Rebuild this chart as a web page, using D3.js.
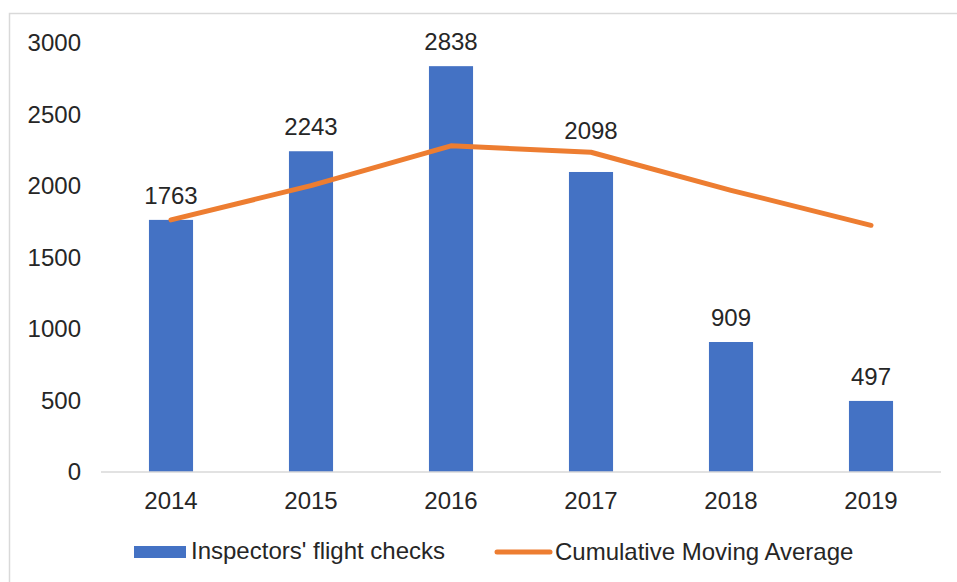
<!DOCTYPE html>
<html>
<head>
<meta charset="utf-8">
<script src="https://cdn.jsdelivr.net/npm/d3@7"></script>
<style>
  body { margin: 0; background: #fff; }
  text { font-family: "Liberation Sans", Arial, sans-serif; }
</style>
</head>
<body>
<div id="chart"></div>
<script>
// values
const years = ["2014", "2015", "2016", "2017", "2018", "2019"];
const flightChecks = [1763, 2243, 2838, 2098, 909, 497];
const movingAverage = [1763, 2003, 2281, 2236, 1970, 1725];
const yTicks = [0, 500, 1000, 1500, 2000, 2500, 3000];
const seriesNames = ["Inspectors' flight checks", "Cumulative Moving Average"];

let width = 957;
let height = 582;
let fontSize = 24;

let svg = d3.select("#chart")
    .append("svg")
    .attr("width", width)
    .attr("height", height);

// outer frame
svg.append("rect")
    .attr("x", 9.5)
    .attr("y", 13.5)
    .attr("width", width)
    .attr("height", height)
    .attr("fill", "none")
    .attr("stroke", "#d9d9d9")
    .attr("stroke-width", 1.5);

let xScale = d3.scaleBand().range([101, 941]).domain(years).padding(0);
let yScale = d3.scaleLinear().range([472, 43]).domain([0, 3000]);
let barWidth = xScale.bandwidth() * 0.315;
let cx = i => xScale(years[i]) + xScale.bandwidth() / 2;

// y axis labels
svg.append("g")
    .selectAll("text")
    .data(yTicks)
    .enter().append("text")
    .attr("x", 81)
    .attr("y", d => yScale(d))
    .attr("dy", "0.35em")
    .attr("text-anchor", "end")
    .attr("font-size", fontSize)
    .attr("fill", "#262626")
    .text(d => d);

// bars
svg.append("g")
    .selectAll("rect")
    .data(flightChecks)
    .enter().append("rect")
    .attr("x", (d, i) => cx(i) - barWidth / 2)
    .attr("y", d => yScale(d))
    .attr("width", barWidth)
    .attr("height", d => yScale(0) - yScale(d))
    .attr("fill", "#4472c4");

// baseline
svg.append("line")
    .attr("x1", 101)
    .attr("x2", 941)
    .attr("y1", yScale(0))
    .attr("y2", yScale(0))
    .attr("stroke", "#d9d9d9")
    .attr("stroke-width", 1.5);

// x labels
svg.append("g")
    .selectAll("text")
    .data(years)
    .enter().append("text")
    .attr("x", (d, i) => cx(i))
    .attr("y", 509)
    .attr("text-anchor", "middle")
    .attr("font-size", fontSize)
    .attr("fill", "#262626")
    .text(d => d);

// moving average line
let line = d3.line()
    .x((d, i) => cx(i))
    .y(d => yScale(d));

svg.append("path")
    .datum(movingAverage)
    .attr("d", line)
    .attr("fill", "none")
    .attr("stroke", "#ed7d31")
    .attr("stroke-width", 5)
    .attr("stroke-linecap", "round")
    .attr("stroke-linejoin", "round");

// data labels, lifted over the line where they would collide with it
function labelY(d, i) {
    let y = yScale(d) - 16;
    let lineY = yScale(movingAverage[i]);
    if (y > lineY - 13 && y - 18 < lineY + 3) y = lineY - 13;
    return y;
}

svg.append("g")
    .selectAll("text")
    .data(flightChecks)
    .enter().append("text")
    .attr("x", (d, i) => cx(i))
    .attr("y", labelY)
    .attr("text-anchor", "middle")
    .attr("font-size", fontSize)
    .attr("fill", "#262626")
    .text(d => d);

// legend
let legend = svg.append("g");
legend.append("rect")
    .attr("x", 134)
    .attr("y", 546)
    .attr("width", 52)
    .attr("height", 12)
    .attr("fill", "#4472c4");
legend.append("text")
    .attr("x", 191)
    .attr("y", 559)
    .attr("font-size", fontSize)
    .attr("fill", "#262626")
    .text(seriesNames[0]);
legend.append("line")
    .attr("x1", 497)
    .attr("x2", 550)
    .attr("y1", 552)
    .attr("y2", 552)
    .attr("stroke", "#ed7d31")
    .attr("stroke-width", 5)
    .attr("stroke-linecap", "round");
legend.append("text")
    .attr("x", 555)
    .attr("y", 560)
    .attr("font-size", fontSize)
    .attr("fill", "#262626")
    .text(seriesNames[1]);
</script>
</body>
</html>
